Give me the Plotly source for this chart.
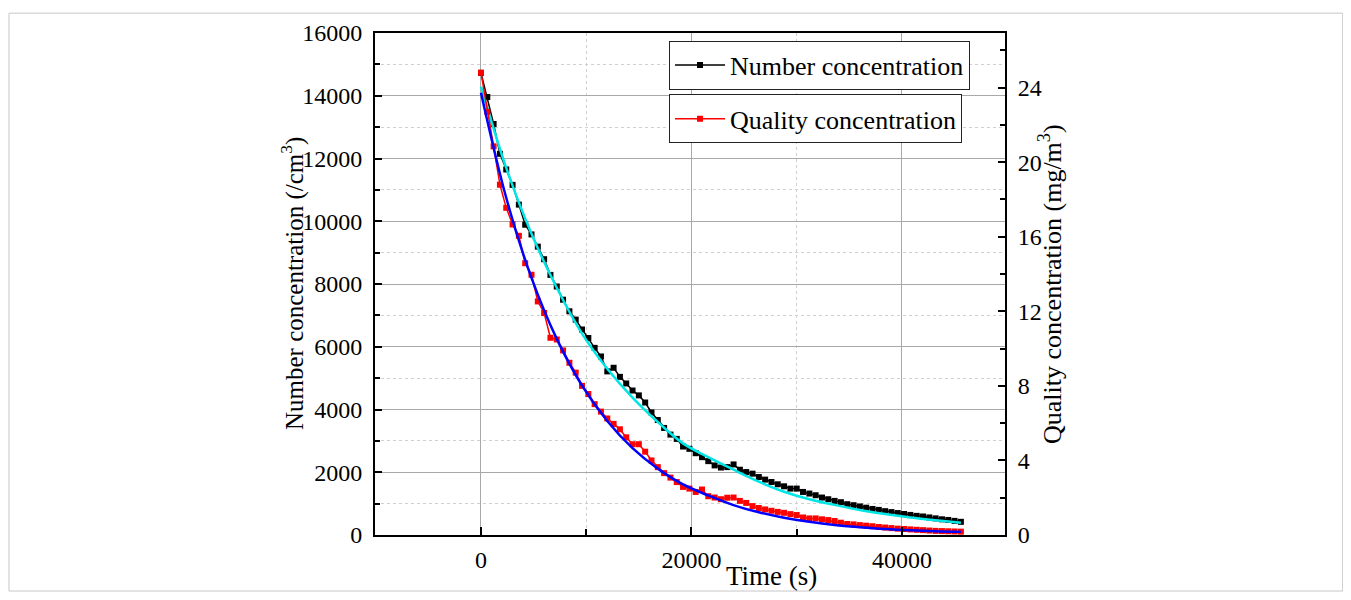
import plotly.graph_objects as go

# ---- data ----
time_s = [i * 600 for i in range(77)]

number_conc = [14730, 13960, 13100, 12150, 11650, 11160, 10530, 9890, 9580, 9190,
               8790, 8290, 7920, 7500, 7130, 6865, 6550, 6280, 5965, 5690,
               5215, 5330, 5040, 4830, 4605, 4450, 4223, 3906, 3665, 3412,
               3200, 3063, 2820, 2747, 2607, 2480, 2354, 2218, 2150, 2164,
               2249, 2081, 2006, 1955, 1847, 1765, 1689, 1616, 1552, 1479,
               1479, 1372, 1321, 1267, 1194, 1140, 1087, 1045, 982, 950,
               910, 870, 830, 800, 760, 730, 700, 670, 640, 610,
               590, 560, 530, 500, 480, 450, 420]

quality_conc = [24.8, 22.7, 20.85, 18.79, 17.55, 16.66, 16.05, 14.58, 13.96, 12.53,
                11.91, 10.58, 10.49, 9.90, 9.24, 8.71, 8.00, 7.56, 7.02, 6.62,
                6.25, 5.96, 5.67, 5.24, 4.87, 4.87, 4.47, 4.00, 3.64, 3.32,
                3.08, 2.84, 2.58, 2.49, 2.31, 2.44, 2.08, 2.01, 1.92, 2.00,
                2.01, 1.83, 1.72, 1.55, 1.45, 1.37, 1.30, 1.24, 1.19, 1.12,
                1.07, 0.94, 0.89, 0.89, 0.84, 0.80, 0.75, 0.66, 0.59, 0.57,
                0.53, 0.50, 0.47, 0.43, 0.40, 0.37, 0.34, 0.32, 0.30, 0.28,
                0.26, 0.24, 0.22, 0.21, 0.20, 0.19, 0.18]

fit_time = [0, 2400, 4800, 7200, 9600, 12000, 14400, 16800, 19200, 21600,
            24000, 26400, 28800, 31200, 33600, 36000, 38400, 40800, 43200, 45600]
number_fit = [14290, 11700, 9600, 7880, 6420, 5300, 4380, 3600, 2920, 2480,
              2080, 1700, 1380, 1140, 960, 800, 670, 560, 470, 390]
quality_fit = [23.73, 18.09, 13.79, 10.52, 8.02, 6.12, 4.66, 3.56, 2.71, 2.12,
               1.60, 1.22, 0.93, 0.71, 0.54, 0.42, 0.32, 0.25, 0.20, 0.17]

x_ticks = [0, 20000, 40000]
left_ticks = list(range(0, 16001, 2000))
right_ticks = [0, 4, 8, 12, 16, 20, 24]

FONT = "Liberation Serif, Times New Roman, serif"

fig = go.Figure()

fig.add_trace(go.Scatter(
    x=time_s, y=number_conc, name="Number concentration", mode="lines+markers",
    line=dict(color="black", width=1.5),
    marker=dict(symbol="square", size=6, color="black"),
    legend="legend", yaxis="y"))

fig.add_trace(go.Scatter(
    x=time_s, y=quality_conc, name="Quality concentration", mode="lines+markers",
    line=dict(color="#ff0000", width=1.5),
    marker=dict(symbol="square", size=6, color="#ff0000"),
    legend="legend2", yaxis="y2"))

fig.add_trace(go.Scatter(
    x=fit_time, y=number_fit, mode="lines", line=dict(color="#00e5e5", width=2.5, shape="spline"),
    showlegend=False, yaxis="y"))

fig.add_trace(go.Scatter(
    x=fit_time, y=quality_fit, mode="lines", line=dict(color="#0000ff", width=2.5, shape="spline"),
    showlegend=False, yaxis="y2"))

tickfont = dict(family=FONT, size=24, color="black")

# page has an 8px body margin: figure is drawn from page (8, 8)
fig.update_layout(
    width=1335, height=584,
    margin=dict(l=367, r=338, t=22, b=57),
    paper_bgcolor="white", plot_bgcolor="white",
    font=dict(family=FONT, color="black"),
    xaxis=dict(
        range=[-10070, 49790], tickvals=x_ticks, tickformat="d", ticks="inside", ticklen=8,
        tickwidth=2, tickcolor="black", showline=True, linewidth=2, linecolor="black",
        mirror=True, showgrid=True, gridcolor="#a8a8a8", gridwidth=1, zeroline=False,
        tickfont=tickfont, ticklabelstandoff=2,
        minor=dict(dtick=10000, tick0=0, ticks="inside", ticklen=6, tickwidth=1.5,
                   tickcolor="black", showgrid=True, gridcolor="#d0d0d0", griddash="dot"),
    ),
    yaxis=dict(
        range=[0, 16000], tickvals=left_ticks, tickformat="d", ticks="inside", ticklen=7,
        tickwidth=2, tickcolor="black", showline=True, linewidth=2, linecolor="black",
        showgrid=True, gridcolor="#a8a8a8", gridwidth=1, zeroline=False,
        tickfont=tickfont, ticklabelstandoff=6,
        minor=dict(dtick=1000, tick0=0, ticks="inside", ticklen=5, tickwidth=1.5,
                   tickcolor="black", showgrid=True, gridcolor="#d0d0d0", griddash="dot"),
    ),
    yaxis2=dict(
        range=[0, 26.93], tickvals=right_ticks, tickformat="d", overlaying="y", side="right",
        ticks="inside", ticklen=7, tickwidth=2, tickcolor="black",
        showline=True, linewidth=2, linecolor="black", showgrid=False, zeroline=False,
        tickfont=tickfont, ticklabelstandoff=6,
        minor=dict(dtick=2, tick0=0, ticks="inside", ticklen=5, tickwidth=1.5, tickcolor="black"),
    ),
    legend=dict(
        x=0.4667, y=0.985, xanchor="left", yanchor="top",
        bgcolor="white", bordercolor="#222222", borderwidth=1,
        font=dict(family=FONT, size=26, color="black"), itemwidth=50,
    ),
    legend2=dict(
        x=0.4667, y=0.878, xanchor="left", yanchor="top",
        bgcolor="white", bordercolor="#222222", borderwidth=1,
        font=dict(family=FONT, size=26, color="black"), itemwidth=50,
    ),
    showlegend=True,
)

fig.add_annotation(text="Time (s)", xref="paper", yref="paper", x=0.630, y=-0.081,
                   xanchor="center", yanchor="middle", showarrow=False,
                   font=dict(family=FONT, size=27, color="black"))
fig.add_annotation(text="Number concentration (/cm<sup>3</sup>)", xref="paper", yref="paper",
                   x=-0.1317, y=0.5, xanchor="center", yanchor="middle", textangle=-90,
                   showarrow=False, font=dict(family=FONT, size=25, color="black"))
fig.add_annotation(text="Quality concentration (mg/m<sup>3</sup>)", xref="paper", yref="paper",
                   x=1.0714, y=0.5, xanchor="center", yanchor="middle", textangle=-90,
                   showarrow=False, font=dict(family=FONT, size=26, color="black"))

# thin frame around the whole picture
fig.add_shape(type="rect", xref="paper", yref="paper",
              x0=-0.581, x1=1.536, y0=-0.1116, y1=1.0395,
              line=dict(color="#c8c8c8", width=1), fillcolor="rgba(0,0,0,0)", layer="below")

fig.write_html("out.html")
